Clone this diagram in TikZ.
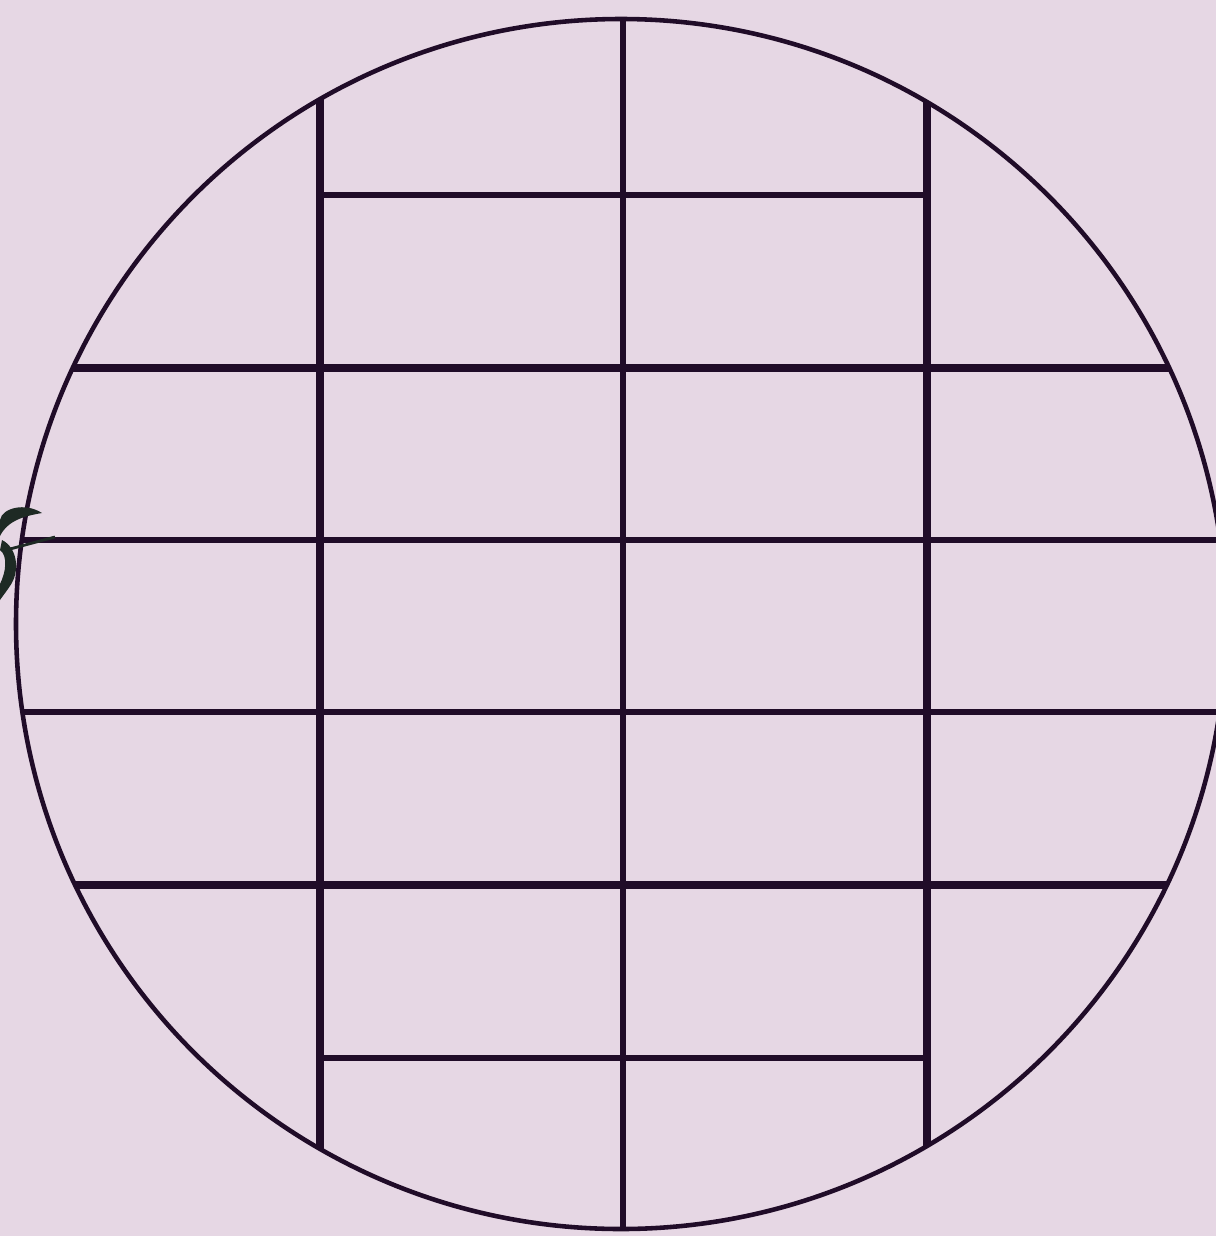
\documentclass[tikz,border=0pt]{standalone}
\begin{document}
\begin{tikzpicture}[x=0.01cm, y=-0.01cm]
            % Define Colors matching the theme
            \definecolor{bgcolor}{RGB}{230, 215, 228}   % Lavender
            \definecolor{gridcolor}{RGB}{32, 12, 40}    % Dark purple
            \definecolor{inkcolor}{RGB}{30, 42, 36}     % Dark green

            % Background
            \fill[bgcolor] (0,0) rectangle (1216,1236);
            \useasboundingbox (0,0) rectangle (1216,1236);

            \coordinate (c) at (621,624);

            % Grid lines, clipped to the disc
            \begin{scope}
                \clip (c) circle (605);
                % Thick lines
                \foreach \x in {320, 927} {
                        \draw[gridcolor, line width=2.4pt] (\x, 0) -- (\x, 1236);
                    }
                \foreach \y in {368, 885} {
                        \draw[gridcolor, line width=2.4pt] (0, \y) -- (1216, \y);
                    }
                % Medium lines
                \draw[gridcolor, line width=1.6pt] (623, 0) -- (623, 1236);
                \foreach \y in {540, 712} {
                        \draw[gridcolor, line width=1.6pt] (0, \y) -- (1216, \y);
                    }
                \foreach \y in {195, 1058} {
                        \draw[gridcolor, line width=1.5pt] (320, \y) -- (927, \y);
                    }
            \end{scope}

            % Rim
            \draw[gridcolor, line width=1.3pt] (c) circle (605);

            % Ink mark at the left edge
            \fill[inkcolor] (42,513) .. controls (25,502) and (2,508) .. (0,520)
                -- (0,536) .. controls (8,520) and (25,516) .. (42,513) -- cycle;
            \fill[inkcolor] (2,540) .. controls (18,548) and (20,572) .. (10,586)
                .. controls (6,592) and (2,597) .. (0,600) -- (0,584)
                .. controls (6,572) and (8,556) .. (0,550) -- cycle;
            \draw[inkcolor, line width=0.8pt] (10,549) -- (55,537);
\end{tikzpicture}
\end{document}
